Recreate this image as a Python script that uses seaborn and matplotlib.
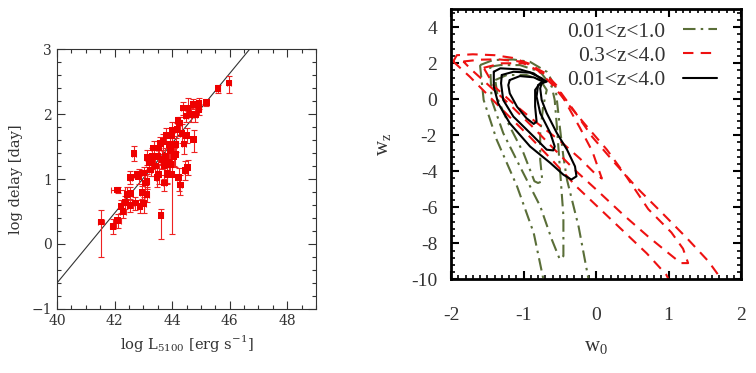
import numpy as np
import pandas as pd
import matplotlib
matplotlib.use("Agg")
import matplotlib.pyplot as plt
from matplotlib.ticker import MultipleLocator
import seaborn as sns

# ---------------- data: left panel (R-L relation) ----------------
log_L = [41.53, 41.95, 42.11, 42.11, 42.23, 42.30, 42.38, 42.55, 42.55, 42.53,
         42.67, 42.78, 42.88, 42.96, 43.01, 43.01, 43.13, 43.13, 43.19, 43.25,
         43.30, 43.36, 43.42, 43.48, 43.50, 43.54, 43.59, 43.65, 43.62, 43.69,
         43.71, 43.73, 43.77, 43.83, 43.88, 43.94, 43.98, 44.00, 44.06, 44.12,
         44.17, 44.20, 44.23, 44.29, 44.35, 44.41, 44.46, 44.50, 44.54, 44.56,
         44.64, 44.75, 44.81, 44.93, 44.93, 45.19, 45.59, 45.98,
         43.13, 43.30, 43.80, 44.00, 44.26, 44.38, 44.73, 44.49, 43.91, 43.94,
         43.53, 43.82, 44.11, 42.84, 43.07, 42.72, 42.43]
log_tau = [0.34, 0.27, 0.36, 0.83, 0.58, 0.50, 0.64, 1.02, 0.78, 0.59,
           1.39, 1.07, 0.58, 0.79, 0.62, 1.09, 0.96, 0.76, 1.25, 1.14,
           1.35, 1.48, 1.20, 1.02, 1.35, 1.48, 1.55, 1.30, 0.44, 1.58,
           1.20, 0.94, 1.35, 1.09, 1.25, 1.43, 1.67, 1.07, 1.35, 1.53,
           1.76, 1.90, 1.02, 0.91, 1.70, 1.54, 1.13, 1.67, 1.18, 2.09,
           1.99, 1.61, 1.99, 2.07, 2.16, 2.18, 2.39, 2.48,
           1.33, 1.27, 1.67, 1.75, 1.86, 2.09, 2.15, 1.97, 1.53, 1.22,
           1.07, 1.07, 1.38, 1.04, 0.94, 0.63, 0.76]
L_err = [0.12, 0.10, 0.10, 0.25, 0.08, 0.10, 0.10, 0.05, 0.05, 0.10,
         0.08, 0.06, 0.08, 0.06, 0.08, 0.06, 0.06, 0.06, 0.10, 0.06,
         0.06, 0.08, 0.06, 0.05, 0.06, 0.06, 0.06, 0.06, 0.05, 0.06,
         0.06, 0.06, 0.06, 0.06, 0.06, 0.06, 0.06, 0.05, 0.06, 0.06,
         0.06, 0.06, 0.06, 0.06, 0.06, 0.06, 0.06, 0.06, 0.06, 0.06,
         0.06, 0.06, 0.06, 0.06, 0.06, 0.06, 0.08, 0.08,
         0.08, 0.06, 0.06, 0.06, 0.06, 0.06, 0.06, 0.06, 0.06, 0.06,
         0.06, 0.06, 0.06, 0.06, 0.06, 0.06, 0.10]
tau_err_lo = [0.54, 0.12, 0.12, 0.05, 0.10, 0.10, 0.10, 0.10, 0.10, 0.10,
              0.12, 0.05, 0.10, 0.10, 0.15, 0.12, 0.12, 0.12, 0.10, 0.10,
              0.12, 0.10, 0.15, 0.15, 0.12, 0.10, 0.10, 0.15, 0.37, 0.20,
              0.20, 0.12, 0.12, 0.15, 0.15, 0.12, 0.10, 0.92, 0.15, 0.12,
              0.10, 0.05, 0.20, 0.15, 0.15, 0.15, 0.15, 0.12, 0.12, 0.12,
              0.12, 0.20, 0.12, 0.08, 0.08, 0.05, 0.06, 0.15,
              0.12, 0.12, 0.12, 0.12, 0.10, 0.10, 0.08, 0.10, 0.12, 0.15,
              0.15, 0.15, 0.20, 0.12, 0.12, 0.10, 0.12]
tau_err_hi = [0.19, 0.12, 0.10, 0.05, 0.10, 0.10, 0.10, 0.10, 0.10, 0.10,
              0.12, 0.05, 0.10, 0.10, 0.10, 0.10, 0.12, 0.12, 0.10, 0.12,
              0.12, 0.10, 0.12, 0.15, 0.10, 0.10, 0.10, 0.15, 0.10, 0.12,
              0.15, 0.12, 0.12, 0.15, 0.15, 0.12, 0.10, 0.25, 0.12, 0.10,
              0.10, 0.05, 0.15, 0.15, 0.15, 0.15, 0.15, 0.12, 0.12, 0.15,
              0.10, 0.15, 0.12, 0.08, 0.08, 0.05, 0.06, 0.10,
              0.12, 0.12, 0.12, 0.12, 0.10, 0.10, 0.08, 0.10, 0.12, 0.15,
              0.15, 0.15, 0.20, 0.12, 0.12, 0.10, 0.12]
fit_x = [40.0, 46.7]
fit_y = [-0.60, 3.00]

# ---------------- data: right panel (w0 - wz contours) ----------------
green_outer_w0 = [-1.60, -1.42, -1.14, -0.91, -0.68, -0.56, -0.50, -0.45, -0.40, -0.24, -0.08,
                  -0.70, -0.86, -1.09, -1.37, -1.55, -1.60]
green_outer_wz = [1.90, 2.18, 2.21, 2.08, 1.53, 0.70, -1.52, -3.19, -4.48, -7.08, -10.5,
                  -10.5, -7.42, -4.83, -2.25, -0.04, 1.90]
green_mid_w0 = [-1.46, -1.32, -1.05, -0.77, -0.61, -0.57, -0.54, -0.50, -0.45, -0.45, -0.50,
                -0.61, -0.77, -1.05, -1.28, -1.44, -1.46]
green_mid_wz = [1.81, 1.90, 1.90, 1.53, 0.70, -0.04, -1.51, -3.73, -6.49, -8.71, -8.89,
                -7.79, -5.94, -3.73, -1.88, -0.04, 1.81]
green_in_w0 = [-1.39, -1.23, -0.96, -0.77, -0.68, -0.73, -0.77, -0.77, -0.74, -0.80, -0.85,
               -1.00, -1.19, -1.35, -1.39]
green_in_wz = [1.07, 1.35, 1.35, 1.07, 0.52, -0.41, -1.88, -3.36, -4.55, -4.65, -4.55,
               -2.99, -1.51, -0.04, 1.07]

red_outer_w0 = [-1.97, -1.92, -1.70, -1.40, -1.15, -0.90, -0.68, -0.50, -0.30, -0.05, 0.25,
                0.56, 0.92, 1.25, 1.55, 1.82, 1.06, 0.97, 0.70, 0.19, -0.27, -0.60,
                -0.91, -1.20, -1.47, -1.74, -1.97]
red_outer_wz = [2.10, 2.45, 2.50, 2.45, 2.30, 1.95, 1.30, 0.45, -0.65, -2.10, -3.50,
                -4.90, -6.35, -7.70, -9.00, -10.5, -10.5, -9.75, -8.56, -6.61, -4.85, -3.40,
                -2.10, -0.95, 0.15, 1.25, 2.10]
red_mid_w0 = [-1.83, -1.60, -1.35, -1.05, -0.80, -0.60, -0.42, -0.15, 0.15, 0.42, 0.72,
              1.04, 1.20, 1.27, 1.17, 1.00, 0.72, 0.38, 0.01, -0.30, -0.57, -0.87,
              -1.20, -1.50, -1.72, -1.83]
red_mid_wz = [2.10, 2.20, 2.22, 2.10, 1.60, 0.80, -0.10, -1.40, -2.80, -4.30, -6.10,
              -7.40, -8.30, -9.10, -9.10, -8.55, -7.63, -6.43, -5.04, -3.90, -2.80, -1.55,
              -0.25, 0.85, 1.65, 2.10]
red_in_w0 = [-1.55, -1.30, -0.96, -0.72, -0.55, -0.40, -0.22, -0.05, 0.08, -0.02, -0.22,
             -0.50, -0.85, -1.15, -1.40, -1.55]
red_in_wz = [1.75, 2.00, 2.00, 1.50, 0.80, -0.30, -1.60, -2.90, -4.40, -4.10, -3.30,
             -2.30, -1.20, -0.20, 0.70, 1.75]

black_outer_w0 = [-1.41, -1.32, -1.05, -0.86, -0.75, -0.68, -0.75, -0.77, -0.75, -0.68, -0.54,
                  -0.40, -0.29, -0.27, -0.34, -0.45, -0.63, -0.91, -1.19, -1.35, -1.41, -1.41]
black_outer_wz = [1.53, 1.72, 1.66, 1.44, 1.11, 0.98, 0.89, 0.61, -0.04, -0.77, -1.88,
                  -2.80, -3.73, -4.28, -4.46, -4.19, -3.54, -2.62, -1.33, -0.22, 0.70, 1.53]
black_mid_w0 = [-1.30, -1.14, -0.91, -0.75, -0.70, -0.80, -0.82, -0.77, -0.63, -0.57, -0.59,
                -0.68, -0.86, -1.14, -1.28, -1.31, -1.30]
black_mid_wz = [1.35, 1.53, 1.48, 1.17, 1.00, 0.79, 0.15, -0.77, -1.88, -2.62, -2.84,
                -2.80, -2.07, -0.96, -0.04, 0.89, 1.35]
black_in_w0 = [-1.19, -1.05, -0.86, -0.73, -0.77, -0.84, -0.84, -0.82, -0.86, -0.96, -1.09,
               -1.19, -1.21, -1.19]
black_in_wz = [1.07, 1.29, 1.22, 0.98, 0.89, 0.52, -0.41, -1.24, -1.37, -1.05, -0.41,
               0.33, 0.79, 1.07]

legend_labels = ["0.01<z<1.0", "0.3<z<4.0", "0.01<z<4.0"]

# ---------------- figure ----------------
sns.set_theme(style="ticks")
plt.rcParams["font.family"] = ["DejaVu Serif", "DejaVu Sans"]
plt.rcParams["mathtext.fontset"] = "custom"
plt.rcParams["mathtext.rm"] = "Liberation Serif"

fig = plt.figure(figsize=(7.56, 3.73), dpi=100)
fig.patch.set_facecolor("white")

# ---- left panel ----
axL = fig.add_axes([0.0754, 0.1716, 0.3426, 0.697])
gray = "#333333"
axL.plot(fit_x, fit_y, color="#333333", lw=0.8, zorder=1)
axL.errorbar(log_L, log_tau, xerr=L_err, yerr=[tau_err_lo, tau_err_hi],
             fmt="none", ecolor="#ee2222", elinewidth=0.8, capsize=2.5,
             capthick=0.8, zorder=2)
dfL = pd.DataFrame({"logL": log_L, "logtau": log_tau})
sns.scatterplot(data=dfL, x="logL", y="logtau", ax=axL, marker="s", s=22,
                color="#ee0000", edgecolor="none", linewidth=0, zorder=3)
axL.set_xlim(40, 49)
axL.set_ylim(-1, 3)
axL.xaxis.set_major_locator(MultipleLocator(2))
axL.xaxis.set_minor_locator(MultipleLocator(0.5))
axL.yaxis.set_major_locator(MultipleLocator(1))
axL.yaxis.set_minor_locator(MultipleLocator(0.2))
axL.tick_params(which="both", direction="in", top=True, right=True,
                colors=gray, labelsize=10, width=0.8)
axL.tick_params(which="major", length=6)
axL.tick_params(which="minor", length=3)
for sp in axL.spines.values():
    sp.set_color(gray)
    sp.set_linewidth(0.8)
axL.set_xlabel(r"log L$_{\mathregular{5100}}$ [erg s$^{\mathregular{-1}}$]",
               fontsize=10.5, color=gray, labelpad=4)
axL.set_ylabel("log delay [day]", fontsize=10.5, color=gray, labelpad=6)
axL.set_yticks([-1, 0, 1, 2, 3])
axL.set_yticklabels(["\u22121", "0", "1", "2", "3"])

# ---- right panel ----
axR = fig.add_axes([0.5966, 0.2512, 0.3836, 0.7239])
green = "#5a6e38"
red = "#ee1111"
gdash = (6, 2.5, 1.2, 2.5)
rdash = (5, 3.5)
for xs, ys in [(green_outer_w0, green_outer_wz), (green_mid_w0, green_mid_wz),
               (green_in_w0, green_in_wz)]:
    axR.plot(xs, ys, color=green, lw=1.5, dashes=gdash)
for xs, ys in [(red_outer_w0, red_outer_wz), (red_mid_w0, red_mid_wz),
               (red_in_w0, red_in_wz)]:
    axR.plot(xs, ys, color=red, lw=1.5, dashes=rdash)
for xs, ys in [(black_outer_w0, black_outer_wz), (black_mid_w0, black_mid_wz),
               (black_in_w0, black_in_wz)]:
    axR.plot(xs, ys, color="black", lw=1.5)

h1, = axR.plot([], [], color=green, lw=1.5, dashes=gdash)
h2, = axR.plot([], [], color=red, lw=1.5, dashes=rdash)
h3, = axR.plot([], [], color="black", lw=1.5)
leg = axR.legend([h1, h2, h3], legend_labels, loc="upper right",
                 bbox_to_anchor=(0.917, 0.955), frameon=False, markerfirst=False,
                 borderpad=0, borderaxespad=0,
                 handlelength=1.6, handletextpad=0.8, labelspacing=0.2,
                 prop={"family": "Liberation Serif", "size": 15.5})
for t in leg.get_texts():
    t.set_color("#333333")

axR.set_xlim(-2, 2)
axR.set_ylim(-10, 5)
axR.xaxis.set_major_locator(MultipleLocator(1))
axR.xaxis.set_minor_locator(MultipleLocator(0.1))
axR.yaxis.set_major_locator(MultipleLocator(2))
axR.yaxis.set_minor_locator(MultipleLocator(0.4))
axR.tick_params(which="both", direction="in", top=True, right=True,
                colors="black", width=1.5, labelsize=14)
axR.tick_params(which="major", length=6)
axR.tick_params(which="minor", length=3, width=1.2)
axR.tick_params(axis="x", which="major", pad=20)
axR.tick_params(axis="y", which="major", pad=10)
axR.set_yticks([-10, -8, -6, -4, -2, 0, 2, 4])
axR.set_yticklabels(["-10", "-8", "-6", "-4", "-2", "0", "2", "4"])
axR.set_xticks([-2, -1, 0, 1, 2])
axR.set_xticklabels(["-2", "-1", "0", "1", "2"])
for lab in axR.get_xticklabels() + axR.get_yticklabels():
    lab.set_family("Liberation Serif")
    lab.set_color("#333333")
for sp in axR.spines.values():
    sp.set_color("black")
    sp.set_linewidth(2)
axR.set_xlabel(r"w$_\mathregular{0}$", fontsize=15, fontfamily="Liberation Serif",
               color="#333333", labelpad=10)
axR.set_ylabel(r"w$_\mathregular{z}$", fontsize=15, fontfamily="Liberation Serif",
               color="#333333", labelpad=12)

fig.savefig("out.png", dpi=100, facecolor="white")
